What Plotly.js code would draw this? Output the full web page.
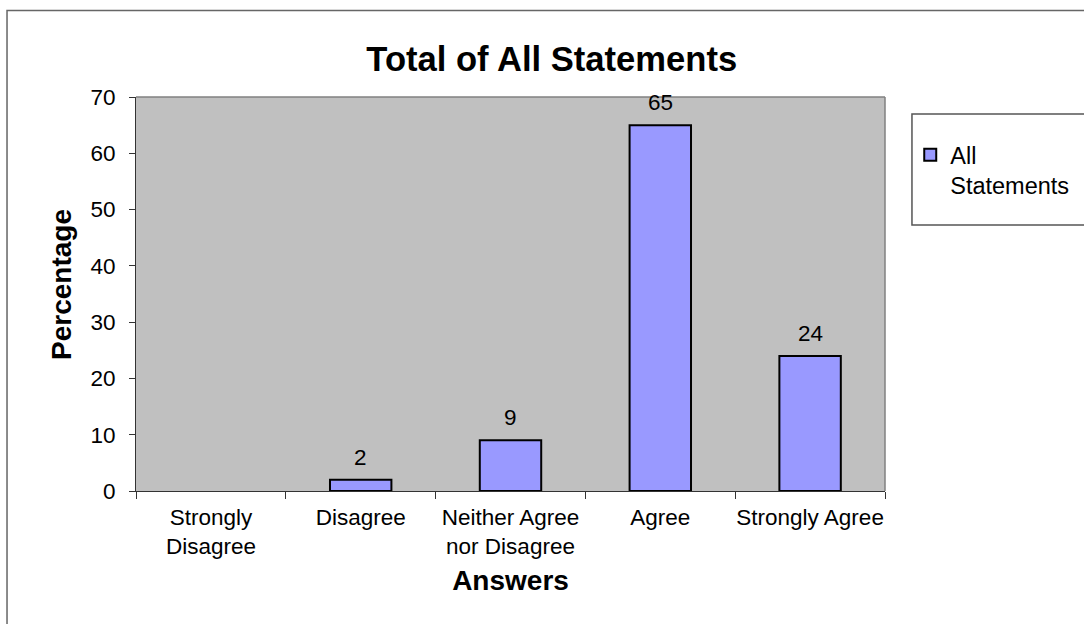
<!DOCTYPE html>
<html>
<head>
<meta charset="utf-8">
<script src="https://cdn.plot.ly/plotly-3.0.1.min.js"></script>
<style>
  html, body { margin: 0; padding: 0; background: #ffffff; }
  #chart { width: 1084px; height: 624px; }
</style>
</head>
<body>
<div id="chart"></div>
<script>
// Answer categories and the share of responses in each (percent)
const categories = [
  "Strongly<br>Disagree",
  "Disagree",
  "Neither Agree<br>nor Disagree",
  "Agree",
  "Strongly Agree"
];
const percentages = [0, 2, 9, 65, 24];
const seriesName = "All<br>Statements";
const yTicks = [0, 10, 20, 30, 40, 50, 60, 70];

const FONT = "Liberation Sans, Arial, Helvetica, sans-serif";
const TICK_SIZE = 22.5;

const trace = {
  type: "bar",
  x: categories,
  // empty categories get no bar (and so no outline)
  y: percentages.map(v => (v > 0 ? v : null)),
  name: seriesName,
  marker: { color: "#9999FF", line: { color: "#000000", width: 2 } },
  hoverinfo: "x+y",
  showlegend: true
};

// Value labels above each non-zero bar
const valueLabels = categories
  .map((c, i) => ({ c, v: percentages[i] }))
  .filter(d => d.v > 0)
  .map(d => ({
    x: d.c, y: d.v, xref: "x", yref: "y",
    text: String(d.v), showarrow: false,
    yanchor: "bottom", yshift: 8,
    font: { family: FONT, size: TICK_SIZE, color: "#000000" }
  }));

// Y-axis title, placed as a rotated label left of the tick labels
const yTitle = {
  xref: "paper", yref: "paper", x: -0.0988, y: 0.5254,
  xanchor: "center", yanchor: "middle",
  text: "<b>Percentage</b>", textangle: -90, showarrow: false,
  font: { family: FONT, size: 28, color: "#000000" }
};

const layout = {
  width: 1084,
  height: 624,
  margin: { l: 136, r: 199, t: 97, b: 133 },
  paper_bgcolor: "#ffffff",
  plot_bgcolor: "#C0C0C0",
  font: { family: FONT, size: TICK_SIZE, color: "#000000" },
  title: {
    text: "<b>Total of All Statements</b>",
    font: { family: FONT, size: 34.6, color: "#000000" },
    x: 0.509, xref: "container", xanchor: "center",
    y: 0.905, yref: "container", yanchor: "middle"
  },
  bargap: 0.59,
  xaxis: {
    type: "category",
    showline: true, linecolor: "#333333", linewidth: 1,
    ticks: "outside", tickson: "boundaries", ticklen: 7, tickcolor: "#333333",
    showgrid: false, zeroline: false,
    tickangle: 0,
    tickfont: { family: FONT, size: TICK_SIZE, color: "#000000" },
    ticklabelstandoff: 6,
    title: {
      text: "<b>Answers</b>",
      font: { family: FONT, size: 28, color: "#000000" },
      standoff: 12
    },
    fixedrange: true
  },
  yaxis: {
    range: [0, 70],
    tickvals: yTicks,
    showline: true, linecolor: "#333333", linewidth: 1,
    ticks: "outside", ticklen: 6, tickcolor: "#333333",
    showgrid: false, zeroline: false,
    tickfont: { family: FONT, size: TICK_SIZE, color: "#000000" },
    ticklabelstandoff: 9,
    fixedrange: true
  },
  legend: {
    xref: "container", yref: "container",
    x: 0.8397, xanchor: "left",
    y: 0.787, yanchor: "top",
    bgcolor: "rgba(0,0,0,0)",
    borderwidth: 0,
    valign: "top",
    font: { family: FONT, size: 23.5, color: "#000000" }
  },
  shapes: [
    // outer chart frame
    { type: "rect", xref: "paper", yref: "paper",
      x0: -0.1722, x1: 1.30, y0: -0.36, y1: 1.2195,
      line: { color: "#666666", width: 1.5 }, layer: "below" },
    // top and right edges of the plot area
    { type: "line", xref: "paper", yref: "paper", x0: 0, x1: 1, y0: 1, y1: 1,
      line: { color: "#808080", width: 1.5 } },
    { type: "line", xref: "paper", yref: "paper", x0: 1, x1: 1, y0: 0, y1: 1,
      line: { color: "#808080", width: 1.5 } },
    // legend frame
    { type: "rect", xref: "paper", yref: "paper",
      x0: 1.036, x1: 1.30, y0: 0.675, y1: 0.957,
      line: { color: "#555555", width: 1.5 } }
  ],
  annotations: valueLabels.concat([yTitle])
};

Plotly.newPlot("chart", [trace], layout, { displayModeBar: false });
</script>
</body>
</html>
